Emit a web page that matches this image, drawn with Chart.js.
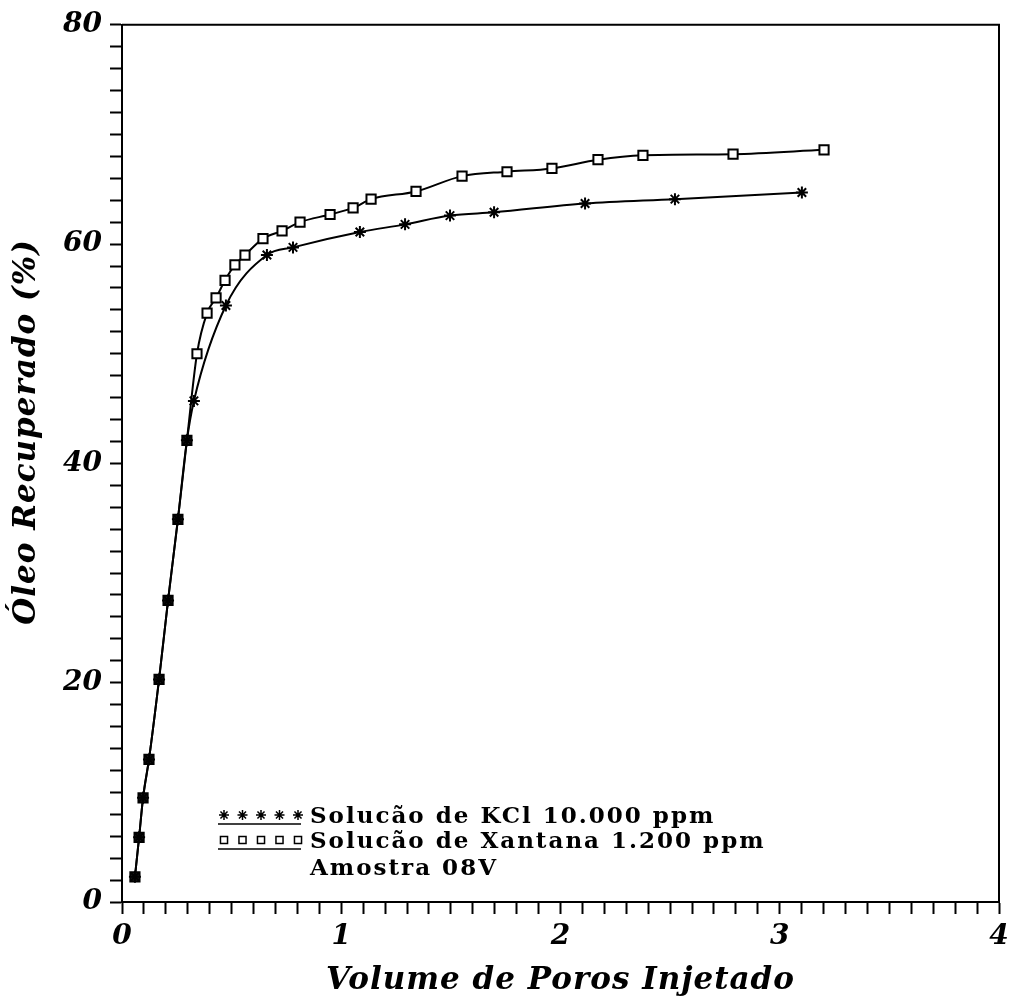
<!DOCTYPE html>
<html>
<head>
<meta charset="utf-8">
<script src="https://cdn.jsdelivr.net/npm/chart.js@4.4.1/dist/chart.umd.min.js"></script>
<style>
  html, body { margin: 0; padding: 0; background: #fff; }
  #wrap { width: 1009px; height: 1002px; }
</style>
</head>
<body>
<div id="wrap"><canvas id="oleo-chart"></canvas></div>
<script>
// volume de poros injetado (x) e oleo recuperado % (y)
var kclX = [0.059, 0.078, 0.096, 0.123, 0.169, 0.210, 0.255, 0.296, 0.328, 0.474, 0.661, 0.780, 1.085, 1.291, 1.496, 1.697, 2.112, 2.522, 3.101];
var kclY = [2.3, 5.9, 9.5, 13.0, 20.3, 27.5, 34.9, 42.1, 45.7, 54.4, 59.0, 59.7, 61.1, 61.8, 62.6, 62.9, 63.7, 64.1, 64.7];

var xanX = [0.059, 0.078, 0.096, 0.123, 0.169, 0.210, 0.255, 0.296, 0.342, 0.388, 0.429, 0.470, 0.515, 0.561, 0.643, 0.730, 0.812, 0.949, 1.054, 1.136, 1.341, 1.551, 1.756, 1.961, 2.171, 2.376, 2.787, 3.202];
var xanY = [2.3, 5.9, 9.5, 13.0, 20.3, 27.5, 34.9, 42.1, 50.0, 53.7, 55.1, 56.7, 58.1, 59.0, 60.5, 61.2, 62.0, 62.7, 63.3, 64.1, 64.8, 66.2, 66.6, 66.9, 67.7, 68.1, 68.2, 68.6];

var legendLabels = ["Solucão de KCl 10.000 ppm", "Solucão de Xantana 1.200 ppm", "Amostra 08V"];
var xTitle = "Volume de Poros Injetado";
var yTitle = "Óleo Recuperado (%)";

function pts(xs, ys) {
    return xs.map(function(x, i){ return {x: x, y: ys[i]}; });
}

var tickFont = { family: "DejaVu Serif", size: 28, style: "italic", weight: "bold" };

// moldura, titulos e legenda desenhados a mao
var extras = {
    id: 'extras',
    afterDraw: function(chart) {
        var c = chart.ctx, a = chart.chartArea;
        c.save();
        c.strokeStyle = '#000';
        c.lineWidth = 2;
        c.beginPath();
        c.moveTo(a.left, a.top); c.lineTo(a.right, a.top); c.lineTo(a.right, a.bottom);
        c.stroke();

        c.fillStyle = '#000';
        c.font = 'italic bold 31px "DejaVu Serif"';
        c.letterSpacing = '1px';
        c.textAlign = 'center';
        c.textBaseline = 'middle';
        c.fillText(xTitle, (a.left + a.right) / 2, 981);

        c.translate(27, 432);
        c.rotate(-Math.PI / 2);
        c.fillText(yTitle, 0, 0);
        c.restore();

        // legenda
        c.save();
        c.fillStyle = '#000';
        c.strokeStyle = '#000';
        c.font = 'bold 23px "DejaVu Serif"';
        c.letterSpacing = '2px';
        c.textAlign = 'left';
        c.textBaseline = 'middle';
        var rows = [817, 842, 869];
        var styles = ['star', 'rect'];
        for (var r = 0; r < 2; r++) {
            for (var k = 0; k < 5; k++) {
                var px = 224 + k * 18.5;
                c.lineWidth = 1.5;
                c.fillStyle = '#fff';
                Chart.helpers.drawPoint(c, { pointStyle: styles[r], radius: 5, borderWidth: 1.5 }, px, rows[r] - 2);
            }
            c.lineWidth = 1.5;
            c.beginPath();
            c.moveTo(218, rows[r] + 7); c.lineTo(301, rows[r] + 7);
            c.stroke();
        }
        c.fillStyle = '#000';
        c.fillText(legendLabels[0], 310, rows[0]);
        c.fillText(legendLabels[1], 310, rows[1]);
        c.fillText(legendLabels[2], 310, rows[2]);
        c.restore();
    }
};

var ctx = document.getElementById('oleo-chart');

var chartData = {
    datasets: [{
        label: legendLabels[0],
        data: pts(kclX, kclY),
        borderColor: '#000',
        backgroundColor: '#000',
        borderWidth: 2,
        pointStyle: 'star',
        pointRadius: 6,
        pointBorderWidth: 2,
        tension: 0.4,
        cubicInterpolationMode: 'monotone'
    }, {
        label: legendLabels[1],
        data: pts(xanX, xanY),
        borderColor: '#000',
        borderWidth: 2,
        pointStyle: 'rect',
        pointRadius: 6.5,
        pointBorderWidth: 2,
        pointBackgroundColor: function(p) { return p.raw && p.raw.y < 44 ? '#222' : '#fff'; },
        tension: 0.4,
        cubicInterpolationMode: 'monotone'
    }]
};

var chartOptions = {
    responsive: true,
    maintainAspectRatio: false,
    animation: false,
    layout: { padding: { left: 0, right: 10, top: 23, bottom: 0 } },
    plugins: { legend: { display: false }, tooltip: { enabled: false } },
    scales: {
        x: {
            type: 'linear',
            min: 0, max: 4,
            afterFit: function(s) { s.height = 100; s.paddingRight = 10; s.paddingLeft = 0; },
            border: { color: '#000', width: 2 },
            grid: { drawOnChartArea: false, drawTicks: true, tickLength: 12, tickColor: '#000', tickWidth: 2 },
            ticks: {
                stepSize: 0.1,
                autoSkip: false,
                maxRotation: 0,
                maxTicksLimit: 100,
                padding: 6,
                color: '#000',
                font: tickFont,
                callback: function(v) {
                    return Math.abs(v - Math.round(v)) < 1e-6 ? String(Math.round(v)) : '';
                }
            }
        },
        y: {
            type: 'linear',
            min: 0, max: 80,
            afterFit: function(s) { s.width = 122; },
            border: { color: '#000', width: 2 },
            grid: { drawOnChartArea: false, drawTicks: true, tickLength: 12, tickColor: '#000', tickWidth: 2 },
            ticks: {
                stepSize: 2,
                autoSkip: false,
                maxTicksLimit: 100,
                padding: 8,
                color: '#000',
                font: tickFont,
                callback: function(v) {
                    return Math.abs(v % 20) < 1e-6 ? String(v) : '';
                }
            }
        }
    }
};

var config = {
    type: 'line',
    options: chartOptions,
    data: chartData,
    plugins: [extras]
};

var oleoChart = new Chart(ctx, config);
</script>
</body>
</html>
